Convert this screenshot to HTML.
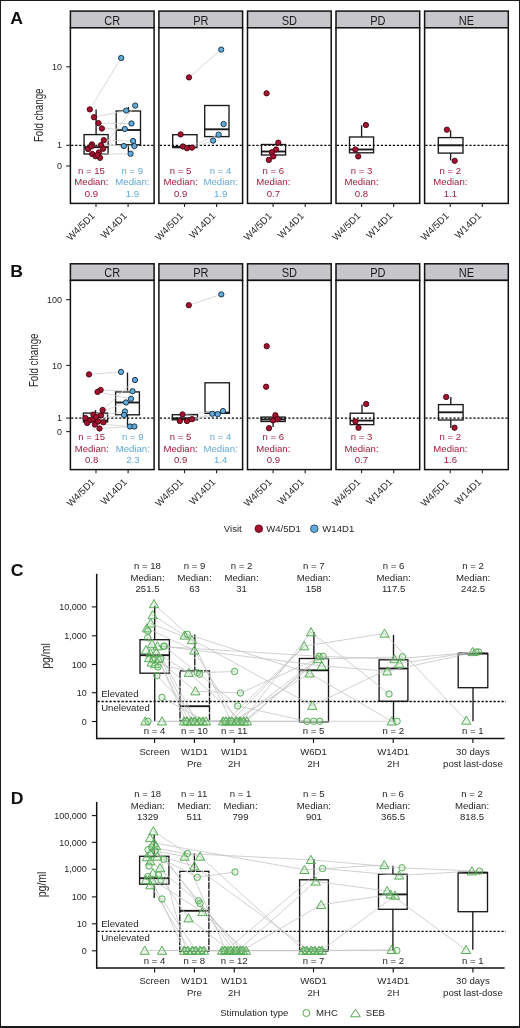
<!DOCTYPE html>
<html><head><meta charset="utf-8"><style>
html,body{margin:0;padding:0;background:#fff;}
svg{display:block;font-family:"Liberation Sans", sans-serif;will-change:transform;}
</style></head><body>
<svg width="520" height="1028" viewBox="0 0 520 1028">
<rect x="0" y="0" width="520" height="1028" fill="#fff"/>
<text transform="translate(10.2,23.8) scale(1.07,1)" x="0" y="0" font-size="16.5" font-weight="bold" fill="#111">A</text>
<rect x="70.4" y="11.1" width="83.7" height="16.7" fill="#c7c6ca" stroke="#111" stroke-width="1.5"/>
<rect x="70.4" y="27.8" width="83.7" height="175.6" fill="#fff" stroke="#111" stroke-width="1.5"/>
<text transform="translate(112.3,24.7) scale(0.875,1)" x="0" y="0" font-size="12.6" text-anchor="middle" fill="#1a1a1a">CR</text>
<line x1="96.0" y1="203.4" x2="96.0" y2="207.0" stroke="#222" stroke-width="1.1"/>
<line x1="128.1" y1="203.4" x2="128.1" y2="207.0" stroke="#222" stroke-width="1.1"/>
<line x1="71.2" y1="145.3" x2="153.3" y2="145.3" stroke="#000" stroke-width="1.3" stroke-dasharray="2.2,1.8"/>
<rect x="158.9" y="11.1" width="83.7" height="16.7" fill="#c7c6ca" stroke="#111" stroke-width="1.5"/>
<rect x="158.9" y="27.8" width="83.7" height="175.6" fill="#fff" stroke="#111" stroke-width="1.5"/>
<text transform="translate(200.8,24.7) scale(0.875,1)" x="0" y="0" font-size="12.6" text-anchor="middle" fill="#1a1a1a">PR</text>
<line x1="184.5" y1="203.4" x2="184.5" y2="207.0" stroke="#222" stroke-width="1.1"/>
<line x1="216.6" y1="203.4" x2="216.6" y2="207.0" stroke="#222" stroke-width="1.1"/>
<line x1="159.8" y1="145.3" x2="241.8" y2="145.3" stroke="#000" stroke-width="1.3" stroke-dasharray="2.2,1.8"/>
<rect x="247.5" y="11.1" width="83.7" height="16.7" fill="#c7c6ca" stroke="#111" stroke-width="1.5"/>
<rect x="247.5" y="27.8" width="83.7" height="175.6" fill="#fff" stroke="#111" stroke-width="1.5"/>
<text transform="translate(289.4,24.7) scale(0.875,1)" x="0" y="0" font-size="12.6" text-anchor="middle" fill="#1a1a1a">SD</text>
<line x1="273.1" y1="203.4" x2="273.1" y2="207.0" stroke="#222" stroke-width="1.1"/>
<line x1="305.2" y1="203.4" x2="305.2" y2="207.0" stroke="#222" stroke-width="1.1"/>
<line x1="248.3" y1="145.3" x2="330.4" y2="145.3" stroke="#000" stroke-width="1.3" stroke-dasharray="2.2,1.8"/>
<rect x="336.0" y="11.1" width="83.7" height="16.7" fill="#c7c6ca" stroke="#111" stroke-width="1.5"/>
<rect x="336.0" y="27.8" width="83.7" height="175.6" fill="#fff" stroke="#111" stroke-width="1.5"/>
<text transform="translate(377.9,24.7) scale(0.875,1)" x="0" y="0" font-size="12.6" text-anchor="middle" fill="#1a1a1a">PD</text>
<line x1="361.6" y1="203.4" x2="361.6" y2="207.0" stroke="#222" stroke-width="1.1"/>
<line x1="393.7" y1="203.4" x2="393.7" y2="207.0" stroke="#222" stroke-width="1.1"/>
<line x1="336.8" y1="145.3" x2="418.9" y2="145.3" stroke="#000" stroke-width="1.3" stroke-dasharray="2.2,1.8"/>
<rect x="424.6" y="11.1" width="83.7" height="16.7" fill="#c7c6ca" stroke="#111" stroke-width="1.5"/>
<rect x="424.6" y="27.8" width="83.7" height="175.6" fill="#fff" stroke="#111" stroke-width="1.5"/>
<text transform="translate(466.5,24.7) scale(0.875,1)" x="0" y="0" font-size="12.6" text-anchor="middle" fill="#1a1a1a">NE</text>
<line x1="450.2" y1="203.4" x2="450.2" y2="207.0" stroke="#222" stroke-width="1.1"/>
<line x1="482.3" y1="203.4" x2="482.3" y2="207.0" stroke="#222" stroke-width="1.1"/>
<line x1="425.4" y1="145.3" x2="507.5" y2="145.3" stroke="#000" stroke-width="1.3" stroke-dasharray="2.2,1.8"/>
<line x1="66.2" y1="66.8" x2="70.4" y2="66.8" stroke="#222" stroke-width="1.1"/>
<text x="62.0" y="69.8" font-size="9" text-anchor="end" fill="#262626" >10</text>
<line x1="66.2" y1="145.3" x2="70.4" y2="145.3" stroke="#222" stroke-width="1.1"/>
<text x="62.0" y="148.4" font-size="9" text-anchor="end" fill="#262626" >1</text>
<line x1="66.2" y1="166.0" x2="70.4" y2="166.0" stroke="#222" stroke-width="1.1"/>
<text x="62.0" y="169.1" font-size="9" text-anchor="end" fill="#262626" >0</text>
<text transform="translate(38.8,115.3) rotate(-90) scale(0.78,1)" x="0" y="4.3" font-size="12.5" text-anchor="middle" fill="#2a2a2a">Fold change</text>
<text transform="translate(95.4,216.4) rotate(-45)" x="0" y="0" font-size="9.7" text-anchor="end" fill="#262626">W4/5D1</text>
<text transform="translate(127.5,216.4) rotate(-45)" x="0" y="0" font-size="9.7" text-anchor="end" fill="#262626">W14D1</text>
<text transform="translate(183.9,216.4) rotate(-45)" x="0" y="0" font-size="9.7" text-anchor="end" fill="#262626">W4/5D1</text>
<text transform="translate(216.0,216.4) rotate(-45)" x="0" y="0" font-size="9.7" text-anchor="end" fill="#262626">W14D1</text>
<text transform="translate(272.5,216.4) rotate(-45)" x="0" y="0" font-size="9.7" text-anchor="end" fill="#262626">W4/5D1</text>
<text transform="translate(304.6,216.4) rotate(-45)" x="0" y="0" font-size="9.7" text-anchor="end" fill="#262626">W14D1</text>
<text transform="translate(361.0,216.4) rotate(-45)" x="0" y="0" font-size="9.7" text-anchor="end" fill="#262626">W4/5D1</text>
<text transform="translate(393.1,216.4) rotate(-45)" x="0" y="0" font-size="9.7" text-anchor="end" fill="#262626">W14D1</text>
<text transform="translate(449.6,216.4) rotate(-45)" x="0" y="0" font-size="9.7" text-anchor="end" fill="#262626">W4/5D1</text>
<text transform="translate(481.7,216.4) rotate(-45)" x="0" y="0" font-size="9.7" text-anchor="end" fill="#262626">W14D1</text>
<line x1="96.1" y1="109.4" x2="96.1" y2="134.6" stroke="#1a1a1a" stroke-width="1.35"/>
<line x1="96.1" y1="154.0" x2="96.1" y2="157.5" stroke="#1a1a1a" stroke-width="1.35"/>
<rect x="84.1" y="134.6" width="24.0" height="19.4" fill="none" stroke="#1a1a1a" stroke-width="1.35"/>
<line x1="84.1" y1="147.2" x2="108.1" y2="147.2" stroke="#1a1a1a" stroke-width="1.89"/>
<line x1="128.4" y1="106.9" x2="128.4" y2="111.0" stroke="#1a1a1a" stroke-width="1.35"/>
<line x1="128.4" y1="144.8" x2="128.4" y2="152.5" stroke="#1a1a1a" stroke-width="1.35"/>
<rect x="116.2" y="111.0" width="24.3" height="33.8" fill="none" stroke="#1a1a1a" stroke-width="1.35"/>
<line x1="116.2" y1="130.0" x2="140.6" y2="130.0" stroke="#1a1a1a" stroke-width="1.89"/>
<polyline points="89.8,109.4 121.2,58.0" fill="none" stroke="#cfcfcf" stroke-width="0.8"/>
<polyline points="94.0,117.2 126.2,110.6" fill="none" stroke="#cfcfcf" stroke-width="0.8"/>
<polyline points="98.5,123.1 131.5,123.5" fill="none" stroke="#cfcfcf" stroke-width="0.8"/>
<polyline points="101.9,128.5 124.8,129.0" fill="none" stroke="#cfcfcf" stroke-width="0.8"/>
<polyline points="103.8,140.2 133.1,141.0" fill="none" stroke="#cfcfcf" stroke-width="0.8"/>
<polyline points="91.9,144.4 123.8,146.0" fill="none" stroke="#cfcfcf" stroke-width="0.8"/>
<polyline points="101.0,145.2 134.4,146.0" fill="none" stroke="#cfcfcf" stroke-width="0.8"/>
<polyline points="92.2,154.0 130.6,153.8" fill="none" stroke="#cfcfcf" stroke-width="0.8"/>
<polyline points="98.8,152.5 135.2,105.6" fill="none" stroke="#cfcfcf" stroke-width="0.8"/>
<circle cx="89.8" cy="109.4" r="2.65" fill="#a5122f" stroke="#4a0612" stroke-width="0.95"/>
<circle cx="94.0" cy="117.2" r="2.65" fill="#a5122f" stroke="#4a0612" stroke-width="0.95"/>
<circle cx="98.5" cy="123.1" r="2.65" fill="#a5122f" stroke="#4a0612" stroke-width="0.95"/>
<circle cx="101.9" cy="128.5" r="2.65" fill="#a5122f" stroke="#4a0612" stroke-width="0.95"/>
<circle cx="103.8" cy="140.2" r="2.65" fill="#a5122f" stroke="#4a0612" stroke-width="0.95"/>
<circle cx="91.9" cy="144.4" r="2.65" fill="#a5122f" stroke="#4a0612" stroke-width="0.95"/>
<circle cx="101.0" cy="145.2" r="2.65" fill="#a5122f" stroke="#4a0612" stroke-width="0.95"/>
<circle cx="88.1" cy="149.0" r="2.65" fill="#a5122f" stroke="#4a0612" stroke-width="0.95"/>
<circle cx="103.1" cy="148.8" r="2.65" fill="#a5122f" stroke="#4a0612" stroke-width="0.95"/>
<circle cx="92.2" cy="154.0" r="2.65" fill="#a5122f" stroke="#4a0612" stroke-width="0.95"/>
<circle cx="98.8" cy="152.5" r="2.65" fill="#a5122f" stroke="#4a0612" stroke-width="0.95"/>
<circle cx="95.6" cy="156.2" r="2.65" fill="#a5122f" stroke="#4a0612" stroke-width="0.95"/>
<circle cx="100.0" cy="157.8" r="2.65" fill="#a5122f" stroke="#4a0612" stroke-width="0.95"/>
<circle cx="91.2" cy="146.5" r="2.65" fill="#a5122f" stroke="#4a0612" stroke-width="0.95"/>
<circle cx="97.5" cy="155.0" r="2.65" fill="#a5122f" stroke="#4a0612" stroke-width="0.95"/>
<circle cx="121.2" cy="58.0" r="2.65" fill="#62aad8" stroke="#173448" stroke-width="0.95"/>
<circle cx="126.2" cy="110.6" r="2.65" fill="#62aad8" stroke="#173448" stroke-width="0.95"/>
<circle cx="131.5" cy="123.5" r="2.65" fill="#62aad8" stroke="#173448" stroke-width="0.95"/>
<circle cx="124.8" cy="129.0" r="2.65" fill="#62aad8" stroke="#173448" stroke-width="0.95"/>
<circle cx="133.1" cy="141.0" r="2.65" fill="#62aad8" stroke="#173448" stroke-width="0.95"/>
<circle cx="123.8" cy="146.0" r="2.65" fill="#62aad8" stroke="#173448" stroke-width="0.95"/>
<circle cx="134.4" cy="146.0" r="2.65" fill="#62aad8" stroke="#173448" stroke-width="0.95"/>
<circle cx="130.6" cy="153.8" r="2.65" fill="#62aad8" stroke="#173448" stroke-width="0.95"/>
<circle cx="135.2" cy="105.6" r="2.65" fill="#62aad8" stroke="#173448" stroke-width="0.95"/>
<text transform="translate(91.4,173.9) scale(0.98,1)" font-size="9.8" text-anchor="middle" fill="#a0203e" >n = 15</text>
<text transform="translate(91.4,185.3) scale(0.98,1)" font-size="9.8" text-anchor="middle" fill="#a0203e" >Median:</text>
<text transform="translate(91.4,196.7) scale(0.98,1)" font-size="9.8" text-anchor="middle" fill="#a0203e" >0.9</text>
<text transform="translate(132.4,173.9) scale(0.98,1)" font-size="9.8" text-anchor="middle" fill="#5fa9d8" >n = 9</text>
<text transform="translate(132.4,185.3) scale(0.98,1)" font-size="9.8" text-anchor="middle" fill="#5fa9d8" >Median:</text>
<text transform="translate(132.4,196.7) scale(0.98,1)" font-size="9.8" text-anchor="middle" fill="#5fa9d8" >1.9</text>
<rect x="172.7" y="134.7" width="24.3" height="12.9" fill="none" stroke="#1a1a1a" stroke-width="1.35"/>
<line x1="172.7" y1="146.8" x2="197.0" y2="146.8" stroke="#1a1a1a" stroke-width="1.89"/>
<rect x="204.7" y="105.5" width="24.3" height="31.1" fill="none" stroke="#1a1a1a" stroke-width="1.35"/>
<line x1="204.7" y1="129.3" x2="229.0" y2="129.3" stroke="#1a1a1a" stroke-width="1.89"/>
<polyline points="189.0,77.4 221.2,49.6" fill="none" stroke="#cfcfcf" stroke-width="0.8"/>
<polyline points="187.0,148.2 218.6,134.7" fill="none" stroke="#cfcfcf" stroke-width="0.8"/>
<polyline points="192.0,147.6 213.1,140.6" fill="none" stroke="#cfcfcf" stroke-width="0.8"/>
<circle cx="189.0" cy="77.4" r="2.65" fill="#a5122f" stroke="#4a0612" stroke-width="0.95"/>
<circle cx="180.6" cy="134.4" r="2.65" fill="#a5122f" stroke="#4a0612" stroke-width="0.95"/>
<circle cx="183.0" cy="146.5" r="2.65" fill="#a5122f" stroke="#4a0612" stroke-width="0.95"/>
<circle cx="187.0" cy="148.2" r="2.65" fill="#a5122f" stroke="#4a0612" stroke-width="0.95"/>
<circle cx="192.0" cy="147.6" r="2.65" fill="#a5122f" stroke="#4a0612" stroke-width="0.95"/>
<circle cx="221.2" cy="49.6" r="2.65" fill="#62aad8" stroke="#173448" stroke-width="0.95"/>
<circle cx="223.6" cy="124.1" r="2.65" fill="#62aad8" stroke="#173448" stroke-width="0.95"/>
<circle cx="218.6" cy="134.7" r="2.65" fill="#62aad8" stroke="#173448" stroke-width="0.95"/>
<circle cx="213.1" cy="140.6" r="2.65" fill="#62aad8" stroke="#173448" stroke-width="0.95"/>
<text transform="translate(180.6,173.9) scale(0.98,1)" font-size="9.8" text-anchor="middle" fill="#a0203e" >n = 5</text>
<text transform="translate(180.6,185.3) scale(0.98,1)" font-size="9.8" text-anchor="middle" fill="#a0203e" >Median:</text>
<text transform="translate(180.6,196.7) scale(0.98,1)" font-size="9.8" text-anchor="middle" fill="#a0203e" >0.9</text>
<text transform="translate(220.6,173.9) scale(0.98,1)" font-size="9.8" text-anchor="middle" fill="#5fa9d8" >n = 4</text>
<text transform="translate(220.6,185.3) scale(0.98,1)" font-size="9.8" text-anchor="middle" fill="#5fa9d8" >Median:</text>
<text transform="translate(220.6,196.7) scale(0.98,1)" font-size="9.8" text-anchor="middle" fill="#5fa9d8" >1.9</text>
<rect x="261.5" y="144.5" width="24.1" height="10.5" fill="none" stroke="#1a1a1a" stroke-width="1.35"/>
<line x1="261.5" y1="151.5" x2="285.6" y2="151.5" stroke="#1a1a1a" stroke-width="1.89"/>
<circle cx="266.6" cy="93.3" r="2.65" fill="#a5122f" stroke="#4a0612" stroke-width="0.95"/>
<circle cx="278.3" cy="142.7" r="2.65" fill="#a5122f" stroke="#4a0612" stroke-width="0.95"/>
<circle cx="276.1" cy="149.5" r="2.65" fill="#a5122f" stroke="#4a0612" stroke-width="0.95"/>
<circle cx="271.9" cy="152.2" r="2.65" fill="#a5122f" stroke="#4a0612" stroke-width="0.95"/>
<circle cx="273.3" cy="156.4" r="2.65" fill="#a5122f" stroke="#4a0612" stroke-width="0.95"/>
<circle cx="268.8" cy="159.9" r="2.65" fill="#a5122f" stroke="#4a0612" stroke-width="0.95"/>
<text transform="translate(273.3,173.9) scale(0.98,1)" font-size="9.8" text-anchor="middle" fill="#a0203e" >n = 6</text>
<text transform="translate(273.3,185.3) scale(0.98,1)" font-size="9.8" text-anchor="middle" fill="#a0203e" >Median:</text>
<text transform="translate(273.3,196.7) scale(0.98,1)" font-size="9.8" text-anchor="middle" fill="#a0203e" >0.7</text>
<line x1="361.6" y1="125.3" x2="361.6" y2="137.0" stroke="#1a1a1a" stroke-width="1.35"/>
<rect x="349.5" y="137.0" width="24.1" height="15.8" fill="none" stroke="#1a1a1a" stroke-width="1.35"/>
<line x1="349.5" y1="149.5" x2="373.6" y2="149.5" stroke="#1a1a1a" stroke-width="1.89"/>
<circle cx="365.9" cy="125.0" r="2.65" fill="#a5122f" stroke="#4a0612" stroke-width="0.95"/>
<circle cx="355.3" cy="149.5" r="2.65" fill="#a5122f" stroke="#4a0612" stroke-width="0.95"/>
<circle cx="358.2" cy="156.4" r="2.65" fill="#a5122f" stroke="#4a0612" stroke-width="0.95"/>
<text transform="translate(361.5,173.9) scale(0.98,1)" font-size="9.8" text-anchor="middle" fill="#a0203e" >n = 3</text>
<text transform="translate(361.5,185.3) scale(0.98,1)" font-size="9.8" text-anchor="middle" fill="#a0203e" >Median:</text>
<text transform="translate(361.5,196.7) scale(0.98,1)" font-size="9.8" text-anchor="middle" fill="#a0203e" >0.8</text>
<line x1="450.6" y1="130.3" x2="450.6" y2="137.6" stroke="#1a1a1a" stroke-width="1.35"/>
<line x1="450.6" y1="153.1" x2="450.6" y2="160.4" stroke="#1a1a1a" stroke-width="1.35"/>
<rect x="438.3" y="137.6" width="24.7" height="15.5" fill="none" stroke="#1a1a1a" stroke-width="1.35"/>
<line x1="438.3" y1="145.3" x2="463.0" y2="145.3" stroke="#1a1a1a" stroke-width="1.89"/>
<circle cx="446.9" cy="129.7" r="2.65" fill="#a5122f" stroke="#4a0612" stroke-width="0.95"/>
<circle cx="454.7" cy="160.8" r="2.65" fill="#a5122f" stroke="#4a0612" stroke-width="0.95"/>
<text transform="translate(450.4,173.9) scale(0.98,1)" font-size="9.8" text-anchor="middle" fill="#a0203e" >n = 2</text>
<text transform="translate(450.4,185.3) scale(0.98,1)" font-size="9.8" text-anchor="middle" fill="#a0203e" >Median:</text>
<text transform="translate(450.4,196.7) scale(0.98,1)" font-size="9.8" text-anchor="middle" fill="#a0203e" >1.1</text>
<text transform="translate(10.2,276.5) scale(1.07,1)" x="0" y="0" font-size="16.5" font-weight="bold" fill="#111">B</text>
<rect x="70.4" y="263.8" width="83.7" height="16.6" fill="#c7c6ca" stroke="#111" stroke-width="1.5"/>
<rect x="70.4" y="280.4" width="83.7" height="189.2" fill="#fff" stroke="#111" stroke-width="1.5"/>
<text transform="translate(112.3,277.4) scale(0.875,1)" x="0" y="0" font-size="12.6" text-anchor="middle" fill="#1a1a1a">CR</text>
<line x1="96.0" y1="469.6" x2="96.0" y2="473.2" stroke="#222" stroke-width="1.1"/>
<line x1="128.1" y1="469.6" x2="128.1" y2="473.2" stroke="#222" stroke-width="1.1"/>
<line x1="71.2" y1="418.1" x2="153.3" y2="418.1" stroke="#000" stroke-width="1.3" stroke-dasharray="2.2,1.8"/>
<rect x="158.9" y="263.8" width="83.7" height="16.6" fill="#c7c6ca" stroke="#111" stroke-width="1.5"/>
<rect x="158.9" y="280.4" width="83.7" height="189.2" fill="#fff" stroke="#111" stroke-width="1.5"/>
<text transform="translate(200.8,277.4) scale(0.875,1)" x="0" y="0" font-size="12.6" text-anchor="middle" fill="#1a1a1a">PR</text>
<line x1="184.5" y1="469.6" x2="184.5" y2="473.2" stroke="#222" stroke-width="1.1"/>
<line x1="216.6" y1="469.6" x2="216.6" y2="473.2" stroke="#222" stroke-width="1.1"/>
<line x1="159.8" y1="418.1" x2="241.8" y2="418.1" stroke="#000" stroke-width="1.3" stroke-dasharray="2.2,1.8"/>
<rect x="247.5" y="263.8" width="83.7" height="16.6" fill="#c7c6ca" stroke="#111" stroke-width="1.5"/>
<rect x="247.5" y="280.4" width="83.7" height="189.2" fill="#fff" stroke="#111" stroke-width="1.5"/>
<text transform="translate(289.4,277.4) scale(0.875,1)" x="0" y="0" font-size="12.6" text-anchor="middle" fill="#1a1a1a">SD</text>
<line x1="273.1" y1="469.6" x2="273.1" y2="473.2" stroke="#222" stroke-width="1.1"/>
<line x1="305.2" y1="469.6" x2="305.2" y2="473.2" stroke="#222" stroke-width="1.1"/>
<line x1="248.3" y1="418.1" x2="330.4" y2="418.1" stroke="#000" stroke-width="1.3" stroke-dasharray="2.2,1.8"/>
<rect x="336.0" y="263.8" width="83.7" height="16.6" fill="#c7c6ca" stroke="#111" stroke-width="1.5"/>
<rect x="336.0" y="280.4" width="83.7" height="189.2" fill="#fff" stroke="#111" stroke-width="1.5"/>
<text transform="translate(377.9,277.4) scale(0.875,1)" x="0" y="0" font-size="12.6" text-anchor="middle" fill="#1a1a1a">PD</text>
<line x1="361.6" y1="469.6" x2="361.6" y2="473.2" stroke="#222" stroke-width="1.1"/>
<line x1="393.7" y1="469.6" x2="393.7" y2="473.2" stroke="#222" stroke-width="1.1"/>
<line x1="336.8" y1="418.1" x2="418.9" y2="418.1" stroke="#000" stroke-width="1.3" stroke-dasharray="2.2,1.8"/>
<rect x="424.6" y="263.8" width="83.7" height="16.6" fill="#c7c6ca" stroke="#111" stroke-width="1.5"/>
<rect x="424.6" y="280.4" width="83.7" height="189.2" fill="#fff" stroke="#111" stroke-width="1.5"/>
<text transform="translate(466.5,277.4) scale(0.875,1)" x="0" y="0" font-size="12.6" text-anchor="middle" fill="#1a1a1a">NE</text>
<line x1="450.2" y1="469.6" x2="450.2" y2="473.2" stroke="#222" stroke-width="1.1"/>
<line x1="482.3" y1="469.6" x2="482.3" y2="473.2" stroke="#222" stroke-width="1.1"/>
<line x1="425.4" y1="418.1" x2="507.5" y2="418.1" stroke="#000" stroke-width="1.3" stroke-dasharray="2.2,1.8"/>
<line x1="66.2" y1="299.7" x2="70.4" y2="299.7" stroke="#222" stroke-width="1.1"/>
<text x="62.0" y="302.8" font-size="9" text-anchor="end" fill="#262626" >100</text>
<line x1="66.2" y1="365.4" x2="70.4" y2="365.4" stroke="#222" stroke-width="1.1"/>
<text x="62.0" y="368.5" font-size="9" text-anchor="end" fill="#262626" >10</text>
<line x1="66.2" y1="418.1" x2="70.4" y2="418.1" stroke="#222" stroke-width="1.1"/>
<text x="62.0" y="421.2" font-size="9" text-anchor="end" fill="#262626" >1</text>
<line x1="66.2" y1="431.6" x2="70.4" y2="431.6" stroke="#222" stroke-width="1.1"/>
<text x="62.0" y="434.7" font-size="9" text-anchor="end" fill="#262626" >0</text>
<text transform="translate(34.0,360.3) rotate(-90) scale(0.78,1)" x="0" y="4.3" font-size="12.5" text-anchor="middle" fill="#2a2a2a">Fold change</text>
<text transform="translate(95.4,482.6) rotate(-45)" x="0" y="0" font-size="9.7" text-anchor="end" fill="#262626">W4/5D1</text>
<text transform="translate(127.5,482.6) rotate(-45)" x="0" y="0" font-size="9.7" text-anchor="end" fill="#262626">W14D1</text>
<text transform="translate(183.9,482.6) rotate(-45)" x="0" y="0" font-size="9.7" text-anchor="end" fill="#262626">W4/5D1</text>
<text transform="translate(216.0,482.6) rotate(-45)" x="0" y="0" font-size="9.7" text-anchor="end" fill="#262626">W14D1</text>
<text transform="translate(272.5,482.6) rotate(-45)" x="0" y="0" font-size="9.7" text-anchor="end" fill="#262626">W4/5D1</text>
<text transform="translate(304.6,482.6) rotate(-45)" x="0" y="0" font-size="9.7" text-anchor="end" fill="#262626">W14D1</text>
<text transform="translate(361.0,482.6) rotate(-45)" x="0" y="0" font-size="9.7" text-anchor="end" fill="#262626">W4/5D1</text>
<text transform="translate(393.1,482.6) rotate(-45)" x="0" y="0" font-size="9.7" text-anchor="end" fill="#262626">W14D1</text>
<text transform="translate(449.6,482.6) rotate(-45)" x="0" y="0" font-size="9.7" text-anchor="end" fill="#262626">W4/5D1</text>
<text transform="translate(481.7,482.6) rotate(-45)" x="0" y="0" font-size="9.7" text-anchor="end" fill="#262626">W14D1</text>
<line x1="95.5" y1="410.0" x2="95.5" y2="413.1" stroke="#1a1a1a" stroke-width="1.35"/>
<rect x="83.4" y="413.1" width="24.2" height="8.8" fill="none" stroke="#1a1a1a" stroke-width="1.35"/>
<line x1="83.4" y1="420.6" x2="107.6" y2="420.6" stroke="#1a1a1a" stroke-width="1.89"/>
<line x1="127.5" y1="372.5" x2="127.5" y2="391.9" stroke="#1a1a1a" stroke-width="1.35"/>
<line x1="127.5" y1="414.8" x2="127.5" y2="426.2" stroke="#1a1a1a" stroke-width="1.35"/>
<rect x="115.6" y="391.9" width="23.8" height="22.9" fill="none" stroke="#1a1a1a" stroke-width="1.35"/>
<line x1="115.6" y1="402.5" x2="139.4" y2="402.5" stroke="#1a1a1a" stroke-width="1.89"/>
<polyline points="89.0,374.4 121.0,371.9" fill="none" stroke="#cfcfcf" stroke-width="0.8"/>
<polyline points="100.6,390.0 132.5,391.2" fill="none" stroke="#cfcfcf" stroke-width="0.8"/>
<polyline points="97.5,391.9 131.0,398.8" fill="none" stroke="#cfcfcf" stroke-width="0.8"/>
<polyline points="102.6,410.0 135.0,380.0" fill="none" stroke="#cfcfcf" stroke-width="0.8"/>
<polyline points="93.4,414.6 126.0,402.5" fill="none" stroke="#cfcfcf" stroke-width="0.8"/>
<polyline points="101.0,415.4 125.0,411.5" fill="none" stroke="#cfcfcf" stroke-width="0.8"/>
<polyline points="87.2,423.0 130.0,426.5" fill="none" stroke="#cfcfcf" stroke-width="0.8"/>
<polyline points="99.5,428.5 134.4,426.5" fill="none" stroke="#cfcfcf" stroke-width="0.8"/>
<polyline points="93.4,419.2 124.0,415.0" fill="none" stroke="#cfcfcf" stroke-width="0.8"/>
<circle cx="89.0" cy="374.4" r="2.65" fill="#a5122f" stroke="#4a0612" stroke-width="0.95"/>
<circle cx="100.6" cy="390.0" r="2.65" fill="#a5122f" stroke="#4a0612" stroke-width="0.95"/>
<circle cx="97.5" cy="391.9" r="2.65" fill="#a5122f" stroke="#4a0612" stroke-width="0.95"/>
<circle cx="102.6" cy="410.0" r="2.65" fill="#a5122f" stroke="#4a0612" stroke-width="0.95"/>
<circle cx="93.4" cy="414.6" r="2.65" fill="#a5122f" stroke="#4a0612" stroke-width="0.95"/>
<circle cx="101.0" cy="415.4" r="2.65" fill="#a5122f" stroke="#4a0612" stroke-width="0.95"/>
<circle cx="87.2" cy="423.0" r="2.65" fill="#a5122f" stroke="#4a0612" stroke-width="0.95"/>
<circle cx="94.9" cy="424.6" r="2.65" fill="#a5122f" stroke="#4a0612" stroke-width="0.95"/>
<circle cx="99.5" cy="428.5" r="2.65" fill="#a5122f" stroke="#4a0612" stroke-width="0.95"/>
<circle cx="90.3" cy="420.0" r="2.65" fill="#a5122f" stroke="#4a0612" stroke-width="0.95"/>
<circle cx="98.0" cy="421.5" r="2.65" fill="#a5122f" stroke="#4a0612" stroke-width="0.95"/>
<circle cx="103.4" cy="422.3" r="2.65" fill="#a5122f" stroke="#4a0612" stroke-width="0.95"/>
<circle cx="93.4" cy="419.2" r="2.65" fill="#a5122f" stroke="#4a0612" stroke-width="0.95"/>
<circle cx="85.5" cy="418.0" r="2.65" fill="#a5122f" stroke="#4a0612" stroke-width="0.95"/>
<circle cx="96.0" cy="417.0" r="2.65" fill="#a5122f" stroke="#4a0612" stroke-width="0.95"/>
<circle cx="121.0" cy="371.9" r="2.65" fill="#62aad8" stroke="#173448" stroke-width="0.95"/>
<circle cx="135.0" cy="380.0" r="2.65" fill="#62aad8" stroke="#173448" stroke-width="0.95"/>
<circle cx="132.5" cy="391.2" r="2.65" fill="#62aad8" stroke="#173448" stroke-width="0.95"/>
<circle cx="131.0" cy="398.8" r="2.65" fill="#62aad8" stroke="#173448" stroke-width="0.95"/>
<circle cx="126.0" cy="402.5" r="2.65" fill="#62aad8" stroke="#173448" stroke-width="0.95"/>
<circle cx="125.0" cy="411.5" r="2.65" fill="#62aad8" stroke="#173448" stroke-width="0.95"/>
<circle cx="124.0" cy="415.0" r="2.65" fill="#62aad8" stroke="#173448" stroke-width="0.95"/>
<circle cx="130.0" cy="426.5" r="2.65" fill="#62aad8" stroke="#173448" stroke-width="0.95"/>
<circle cx="134.4" cy="426.5" r="2.65" fill="#62aad8" stroke="#173448" stroke-width="0.95"/>
<text transform="translate(91.7,440.2) scale(0.98,1)" font-size="9.8" text-anchor="middle" fill="#a0203e" >n = 15</text>
<text transform="translate(91.7,451.5) scale(0.98,1)" font-size="9.8" text-anchor="middle" fill="#a0203e" >Median:</text>
<text transform="translate(91.7,462.8) scale(0.98,1)" font-size="9.8" text-anchor="middle" fill="#a0203e" >0.8</text>
<text transform="translate(132.8,440.2) scale(0.98,1)" font-size="9.8" text-anchor="middle" fill="#5fa9d8" >n = 9</text>
<text transform="translate(132.8,451.5) scale(0.98,1)" font-size="9.8" text-anchor="middle" fill="#5fa9d8" >Median:</text>
<text transform="translate(132.8,462.8) scale(0.98,1)" font-size="9.8" text-anchor="middle" fill="#5fa9d8" >2.3</text>
<rect x="172.3" y="414.7" width="25.2" height="5.1" fill="none" stroke="#1a1a1a" stroke-width="1.35"/>
<line x1="172.3" y1="418.3" x2="197.5" y2="418.3" stroke="#1a1a1a" stroke-width="1.89"/>
<rect x="205.0" y="382.8" width="24.4" height="30.5" fill="none" stroke="#1a1a1a" stroke-width="1.35"/>
<line x1="205.0" y1="412.6" x2="229.4" y2="412.6" stroke="#1a1a1a" stroke-width="1.89"/>
<polyline points="188.8,305.2 221.3,294.4" fill="none" stroke="#cfcfcf" stroke-width="0.8"/>
<polyline points="182.5,414.4 223.0,411.1" fill="none" stroke="#cfcfcf" stroke-width="0.8"/>
<polyline points="192.0,419.2 212.3,413.8" fill="none" stroke="#cfcfcf" stroke-width="0.8"/>
<polyline points="187.0,421.0 217.7,414.2" fill="none" stroke="#cfcfcf" stroke-width="0.8"/>
<circle cx="188.8" cy="305.2" r="2.65" fill="#a5122f" stroke="#4a0612" stroke-width="0.95"/>
<circle cx="182.5" cy="414.4" r="2.65" fill="#a5122f" stroke="#4a0612" stroke-width="0.95"/>
<circle cx="179.8" cy="421.0" r="2.65" fill="#a5122f" stroke="#4a0612" stroke-width="0.95"/>
<circle cx="187.0" cy="421.0" r="2.65" fill="#a5122f" stroke="#4a0612" stroke-width="0.95"/>
<circle cx="192.0" cy="419.2" r="2.65" fill="#a5122f" stroke="#4a0612" stroke-width="0.95"/>
<circle cx="221.3" cy="294.4" r="2.65" fill="#62aad8" stroke="#173448" stroke-width="0.95"/>
<circle cx="223.0" cy="411.1" r="2.65" fill="#62aad8" stroke="#173448" stroke-width="0.95"/>
<circle cx="212.3" cy="413.8" r="2.65" fill="#62aad8" stroke="#173448" stroke-width="0.95"/>
<circle cx="217.7" cy="414.2" r="2.65" fill="#62aad8" stroke="#173448" stroke-width="0.95"/>
<text transform="translate(180.6,440.2) scale(0.98,1)" font-size="9.8" text-anchor="middle" fill="#a0203e" >n = 5</text>
<text transform="translate(180.6,451.5) scale(0.98,1)" font-size="9.8" text-anchor="middle" fill="#a0203e" >Median:</text>
<text transform="translate(180.6,462.8) scale(0.98,1)" font-size="9.8" text-anchor="middle" fill="#a0203e" >0.9</text>
<text transform="translate(220.6,440.2) scale(0.98,1)" font-size="9.8" text-anchor="middle" fill="#5fa9d8" >n = 4</text>
<text transform="translate(220.6,451.5) scale(0.98,1)" font-size="9.8" text-anchor="middle" fill="#5fa9d8" >Median:</text>
<text transform="translate(220.6,462.8) scale(0.98,1)" font-size="9.8" text-anchor="middle" fill="#5fa9d8" >1.4</text>
<line x1="273.1" y1="421.5" x2="273.1" y2="427.0" stroke="#1a1a1a" stroke-width="1.35"/>
<rect x="261.0" y="417.1" width="24.2" height="4.4" fill="none" stroke="#1a1a1a" stroke-width="1.35"/>
<line x1="261.0" y1="419.5" x2="285.2" y2="419.5" stroke="#1a1a1a" stroke-width="1.89"/>
<circle cx="266.7" cy="346.2" r="2.65" fill="#a5122f" stroke="#4a0612" stroke-width="0.95"/>
<circle cx="266.1" cy="386.7" r="2.65" fill="#a5122f" stroke="#4a0612" stroke-width="0.95"/>
<circle cx="275.4" cy="415.2" r="2.65" fill="#a5122f" stroke="#4a0612" stroke-width="0.95"/>
<circle cx="273.1" cy="420.4" r="2.65" fill="#a5122f" stroke="#4a0612" stroke-width="0.95"/>
<circle cx="277.7" cy="419.2" r="2.65" fill="#a5122f" stroke="#4a0612" stroke-width="0.95"/>
<circle cx="269.0" cy="428.2" r="2.65" fill="#a5122f" stroke="#4a0612" stroke-width="0.95"/>
<text transform="translate(273.3,440.2) scale(0.98,1)" font-size="9.8" text-anchor="middle" fill="#a0203e" >n = 6</text>
<text transform="translate(273.3,451.5) scale(0.98,1)" font-size="9.8" text-anchor="middle" fill="#a0203e" >Median:</text>
<text transform="translate(273.3,462.8) scale(0.98,1)" font-size="9.8" text-anchor="middle" fill="#a0203e" >0.9</text>
<line x1="362.0" y1="404.6" x2="362.0" y2="413.2" stroke="#1a1a1a" stroke-width="1.35"/>
<rect x="350.2" y="413.2" width="23.6" height="11.4" fill="none" stroke="#1a1a1a" stroke-width="1.35"/>
<line x1="350.2" y1="420.6" x2="373.8" y2="420.6" stroke="#1a1a1a" stroke-width="1.89"/>
<circle cx="366.2" cy="404.0" r="2.65" fill="#a5122f" stroke="#4a0612" stroke-width="0.95"/>
<circle cx="355.4" cy="421.5" r="2.65" fill="#a5122f" stroke="#4a0612" stroke-width="0.95"/>
<circle cx="358.5" cy="427.7" r="2.65" fill="#a5122f" stroke="#4a0612" stroke-width="0.95"/>
<text transform="translate(361.5,440.2) scale(0.98,1)" font-size="9.8" text-anchor="middle" fill="#a0203e" >n = 3</text>
<text transform="translate(361.5,451.5) scale(0.98,1)" font-size="9.8" text-anchor="middle" fill="#a0203e" >Median:</text>
<text transform="translate(361.5,462.8) scale(0.98,1)" font-size="9.8" text-anchor="middle" fill="#a0203e" >0.7</text>
<line x1="450.8" y1="397.0" x2="450.8" y2="404.6" stroke="#1a1a1a" stroke-width="1.35"/>
<line x1="450.8" y1="420.0" x2="450.8" y2="427.7" stroke="#1a1a1a" stroke-width="1.35"/>
<rect x="438.5" y="404.6" width="24.6" height="15.4" fill="none" stroke="#1a1a1a" stroke-width="1.35"/>
<line x1="438.5" y1="412.3" x2="463.1" y2="412.3" stroke="#1a1a1a" stroke-width="1.89"/>
<circle cx="446.2" cy="397.0" r="2.65" fill="#a5122f" stroke="#4a0612" stroke-width="0.95"/>
<circle cx="454.5" cy="427.7" r="2.65" fill="#a5122f" stroke="#4a0612" stroke-width="0.95"/>
<text transform="translate(450.4,440.2) scale(0.98,1)" font-size="9.8" text-anchor="middle" fill="#a0203e" >n = 2</text>
<text transform="translate(450.4,451.5) scale(0.98,1)" font-size="9.8" text-anchor="middle" fill="#a0203e" >Median:</text>
<text transform="translate(450.4,462.8) scale(0.98,1)" font-size="9.8" text-anchor="middle" fill="#a0203e" >1.6</text>
<text transform="translate(223.8,531.6) scale(0.98,1)" font-size="9.8" text-anchor="start" fill="#262626" >Visit</text>
<circle cx="258.8" cy="528.7" r="3.8" fill="#a5122f" stroke="#4a0612" stroke-width="0.8"/>
<text transform="translate(266.2,531.9) scale(0.98,1)" font-size="9.8" text-anchor="start" fill="#262626" >W4/5D1</text>
<circle cx="314.3" cy="528.7" r="3.8" fill="#62aad8" stroke="#173448" stroke-width="0.8"/>
<text transform="translate(322.3,531.9) scale(0.98,1)" font-size="9.8" text-anchor="start" fill="#262626" >W14D1</text>
<text transform="translate(10.8,575.7) scale(1.07,1)" x="0" y="0" font-size="16.5" font-weight="bold" fill="#111">C</text>
<line x1="96.7" y1="573.8" x2="96.7" y2="739.2" stroke="#111" stroke-width="1.5"/>
<line x1="96.0" y1="738.5" x2="504.6" y2="738.5" stroke="#111" stroke-width="1.5"/>
<line x1="91.9" y1="606.9" x2="96.7" y2="606.9" stroke="#111" stroke-width="1.1"/>
<text x="86.7" y="610.1" font-size="9" text-anchor="end" fill="#262626" >10,000</text>
<line x1="91.9" y1="635.8" x2="96.7" y2="635.8" stroke="#111" stroke-width="1.1"/>
<text x="86.7" y="639.0" font-size="9" text-anchor="end" fill="#262626" >1,000</text>
<line x1="91.9" y1="664.5" x2="96.7" y2="664.5" stroke="#111" stroke-width="1.1"/>
<text x="86.7" y="667.7" font-size="9" text-anchor="end" fill="#262626" >100</text>
<line x1="91.9" y1="692.7" x2="96.7" y2="692.7" stroke="#111" stroke-width="1.1"/>
<text x="86.7" y="695.9" font-size="9" text-anchor="end" fill="#262626" >10</text>
<line x1="91.9" y1="721.5" x2="96.7" y2="721.5" stroke="#111" stroke-width="1.1"/>
<text x="86.7" y="724.7" font-size="9" text-anchor="end" fill="#262626" >0</text>
<text transform="translate(45.8,656.0) rotate(-90) scale(0.84,1)" x="0" y="4.3" font-size="12.5" text-anchor="middle" fill="#2a2a2a">pg/ml</text>
<line x1="154.6" y1="738.5" x2="154.6" y2="742.9" stroke="#111" stroke-width="1.1"/>
<text transform="translate(154.6,755.4) scale(0.98,1)" font-size="9.8" text-anchor="middle" fill="#262626" >Screen</text>
<line x1="194.4" y1="738.5" x2="194.4" y2="742.9" stroke="#111" stroke-width="1.1"/>
<text transform="translate(194.4,755.4) scale(0.98,1)" font-size="9.8" text-anchor="middle" fill="#262626" >W1D1</text>
<text transform="translate(194.4,766.9) scale(0.98,1)" font-size="9.8" text-anchor="middle" fill="#262626" >Pre</text>
<line x1="234.2" y1="738.5" x2="234.2" y2="742.9" stroke="#111" stroke-width="1.1"/>
<text transform="translate(234.2,755.4) scale(0.98,1)" font-size="9.8" text-anchor="middle" fill="#262626" >W1D1</text>
<text transform="translate(234.2,766.9) scale(0.98,1)" font-size="9.8" text-anchor="middle" fill="#262626" >2H</text>
<line x1="313.5" y1="738.5" x2="313.5" y2="742.9" stroke="#111" stroke-width="1.1"/>
<text transform="translate(313.5,755.4) scale(0.98,1)" font-size="9.8" text-anchor="middle" fill="#262626" >W6D1</text>
<text transform="translate(313.5,766.9) scale(0.98,1)" font-size="9.8" text-anchor="middle" fill="#262626" >2H</text>
<line x1="393.2" y1="738.5" x2="393.2" y2="742.9" stroke="#111" stroke-width="1.1"/>
<text transform="translate(393.2,755.4) scale(0.98,1)" font-size="9.8" text-anchor="middle" fill="#262626" >W14D1</text>
<text transform="translate(393.2,766.9) scale(0.98,1)" font-size="9.8" text-anchor="middle" fill="#262626" >2H</text>
<line x1="472.9" y1="738.5" x2="472.9" y2="742.9" stroke="#111" stroke-width="1.1"/>
<text transform="translate(472.9,755.4) scale(0.98,1)" font-size="9.8" text-anchor="middle" fill="#262626" >30 days</text>
<text transform="translate(472.9,766.9) scale(0.98,1)" font-size="9.8" text-anchor="middle" fill="#262626" >post last-dose</text>
<text transform="translate(147.5,569.2) scale(0.98,1)" font-size="9.8" text-anchor="middle" fill="#262626" >n = 18</text>
<text transform="translate(147.5,580.6) scale(0.98,1)" font-size="9.8" text-anchor="middle" fill="#262626" >Median:</text>
<text transform="translate(147.5,592.0) scale(0.98,1)" font-size="9.8" text-anchor="middle" fill="#262626" >251.5</text>
<text transform="translate(194.5,569.2) scale(0.98,1)" font-size="9.8" text-anchor="middle" fill="#262626" >n = 9</text>
<text transform="translate(194.5,580.6) scale(0.98,1)" font-size="9.8" text-anchor="middle" fill="#262626" >Median:</text>
<text transform="translate(194.5,592.0) scale(0.98,1)" font-size="9.8" text-anchor="middle" fill="#262626" >63</text>
<text transform="translate(241.5,569.2) scale(0.98,1)" font-size="9.8" text-anchor="middle" fill="#262626" >n = 2</text>
<text transform="translate(241.5,580.6) scale(0.98,1)" font-size="9.8" text-anchor="middle" fill="#262626" >Median:</text>
<text transform="translate(241.5,592.0) scale(0.98,1)" font-size="9.8" text-anchor="middle" fill="#262626" >31</text>
<text transform="translate(313.7,569.2) scale(0.98,1)" font-size="9.8" text-anchor="middle" fill="#262626" >n = 7</text>
<text transform="translate(313.7,580.6) scale(0.98,1)" font-size="9.8" text-anchor="middle" fill="#262626" >Median:</text>
<text transform="translate(313.7,592.0) scale(0.98,1)" font-size="9.8" text-anchor="middle" fill="#262626" >158</text>
<text transform="translate(393.6,569.2) scale(0.98,1)" font-size="9.8" text-anchor="middle" fill="#262626" >n = 6</text>
<text transform="translate(393.6,580.6) scale(0.98,1)" font-size="9.8" text-anchor="middle" fill="#262626" >Median:</text>
<text transform="translate(393.6,592.0) scale(0.98,1)" font-size="9.8" text-anchor="middle" fill="#262626" >117.5</text>
<text transform="translate(473.1,569.2) scale(0.98,1)" font-size="9.8" text-anchor="middle" fill="#262626" >n = 2</text>
<text transform="translate(473.1,580.6) scale(0.98,1)" font-size="9.8" text-anchor="middle" fill="#262626" >Median:</text>
<text transform="translate(473.1,592.0) scale(0.98,1)" font-size="9.8" text-anchor="middle" fill="#262626" >242.5</text>
<text transform="translate(154.6,734.2) scale(0.98,1)" font-size="9.8" text-anchor="middle" fill="#262626" >n = 4</text>
<text transform="translate(194.4,734.2) scale(0.98,1)" font-size="9.8" text-anchor="middle" fill="#262626" >n = 10</text>
<text transform="translate(234.2,734.2) scale(0.98,1)" font-size="9.8" text-anchor="middle" fill="#262626" >n = 11</text>
<text transform="translate(313.5,734.2) scale(0.98,1)" font-size="9.8" text-anchor="middle" fill="#262626" >n = 5</text>
<text transform="translate(393.2,734.2) scale(0.98,1)" font-size="9.8" text-anchor="middle" fill="#262626" >n = 2</text>
<text transform="translate(472.9,734.2) scale(0.98,1)" font-size="9.8" text-anchor="middle" fill="#262626" >n = 1</text>
<line x1="97.5" y1="701.5" x2="506" y2="701.5" stroke="#000" stroke-width="1.3" stroke-dasharray="2.2,1.8"/>
<text transform="translate(101.2,696.7) scale(0.98,1)" font-size="9.8" text-anchor="start" fill="#262626" >Elevated</text>
<text transform="translate(101.2,710.6) scale(0.98,1)" font-size="9.8" text-anchor="start" fill="#262626" >Unelevated</text>
<line x1="154.7" y1="606.0" x2="154.7" y2="639.7" stroke="#1a1a1a" stroke-width="1.35"/>
<line x1="154.7" y1="673.2" x2="154.7" y2="721.2" stroke="#1a1a1a" stroke-width="1.35"/>
<rect x="140.0" y="639.7" width="29.4" height="33.5" fill="none" stroke="#1a1a1a" stroke-width="1.35"/>
<line x1="140.0" y1="655.2" x2="169.4" y2="655.2" stroke="#1a1a1a" stroke-width="1.89"/>
<line x1="194.8" y1="634.6" x2="194.8" y2="670.9" stroke="#1a1a1a" stroke-width="1.35" stroke-dasharray="7,1"/>
<rect x="180.0" y="670.9" width="29.5" height="50.3" fill="none" stroke="#1a1a1a" stroke-width="1.35" stroke-dasharray="7,1"/>
<line x1="180.0" y1="706.2" x2="209.5" y2="706.2" stroke="#1a1a1a" stroke-width="1.89"/>
<rect x="220.0" y="721.3" width="29.0" height="0.0" fill="none" stroke="#1a1a1a" stroke-width="1.35"/>
<line x1="220.0" y1="721.3" x2="249.0" y2="721.3" stroke="#1a1a1a" stroke-width="1.89"/>
<line x1="313.9" y1="632.1" x2="313.9" y2="658.5" stroke="#1a1a1a" stroke-width="1.35"/>
<rect x="299.4" y="658.5" width="29.1" height="63.3" fill="none" stroke="#1a1a1a" stroke-width="1.35"/>
<line x1="299.4" y1="670.3" x2="328.5" y2="670.3" stroke="#1a1a1a" stroke-width="1.89"/>
<line x1="393.5" y1="634.8" x2="393.5" y2="659.8" stroke="#1a1a1a" stroke-width="1.35"/>
<line x1="393.5" y1="701.3" x2="393.5" y2="721.8" stroke="#1a1a1a" stroke-width="1.35"/>
<rect x="379.1" y="659.8" width="28.8" height="41.5" fill="none" stroke="#1a1a1a" stroke-width="1.35"/>
<line x1="379.1" y1="668.5" x2="407.9" y2="668.5" stroke="#1a1a1a" stroke-width="1.89"/>
<line x1="473.0" y1="687.7" x2="473.0" y2="721.2" stroke="#1a1a1a" stroke-width="1.35"/>
<rect x="458.2" y="653.5" width="29.6" height="34.2" fill="none" stroke="#1a1a1a" stroke-width="1.35"/>
<line x1="458.2" y1="653.5" x2="487.8" y2="653.5" stroke="#1a1a1a" stroke-width="1.89"/>
<polyline points="154.0,604.0 187.4,634.3 309.6,673.3 391.7,721.3" fill="none" stroke="#c2c2c2" stroke-width="0.75"/>
<polyline points="152.6,615.0 184.6,635.4 312.3,705.6 399.3,663.6 472.7,651.9" fill="none" stroke="#c2c2c2" stroke-width="0.75"/>
<polyline points="157.4,646.2 319.0,656.3 394.4,659.0 478.5,651.9" fill="none" stroke="#c2c2c2" stroke-width="0.75"/>
<polyline points="163.8,646.3 321.7,665.8 387.2,671.2 476.0,652.0" fill="none" stroke="#c2c2c2" stroke-width="0.75"/>
<polyline points="150.7,623.3 192.0,640.0 231.0,721.3 304.2,646.1 384.5,633.5 466.3,720.5" fill="none" stroke="#c2c2c2" stroke-width="0.75"/>
<polyline points="146.8,628.2 194.3,650.4 237.0,721.3 317.7,659.0 402.5,656.9" fill="none" stroke="#c2c2c2" stroke-width="0.75"/>
<polyline points="156.2,652.6 188.8,672.7 242.0,721.3 311.0,632.1 389.0,694.0" fill="none" stroke="#c2c2c2" stroke-width="0.75"/>
<polyline points="164.3,646.2 197.3,672.7 234.6,671.5" fill="none" stroke="#c2c2c2" stroke-width="0.75"/>
<polyline points="150.4,653.1 195.4,691.2 240.4,693.0 323.1,656.3" fill="none" stroke="#c2c2c2" stroke-width="0.75"/>
<polyline points="151.6,662.3 199.6,674.2 237.7,706.0 306.9,721.3 397.1,721.3" fill="none" stroke="#c2c2c2" stroke-width="0.75"/>
<polyline points="158.5,658.9 186.0,721.3 225.0,721.3 313.7,721.3" fill="none" stroke="#c2c2c2" stroke-width="0.75"/>
<polyline points="160.8,658.9 192.0,721.3 228.0,721.3 319.8,721.3" fill="none" stroke="#c2c2c2" stroke-width="0.75"/>
<polyline points="156.9,675.7 200.0,721.3 244.0,721.3" fill="none" stroke="#c2c2c2" stroke-width="0.75"/>
<polyline points="162.0,697.4 205.0,721.3 247.0,721.3" fill="none" stroke="#c2c2c2" stroke-width="0.75"/>
<polyline points="145.3,721.3 183.0,721.3 222.0,721.3" fill="none" stroke="#c2c2c2" stroke-width="0.75"/>
<polyline points="162.0,721.3 203.0,721.3 246.0,721.3" fill="none" stroke="#c2c2c2" stroke-width="0.75"/>
<polyline points="147.7,637.7 189.0,721.3 230.0,721.3" fill="none" stroke="#c2c2c2" stroke-width="0.75"/>
<polyline points="147.8,631.0 196.0,721.3 233.0,721.3" fill="none" stroke="#c2c2c2" stroke-width="0.75"/>
<polyline points="244.0,721.3 323.1,656.3" fill="none" stroke="#c2c2c2" stroke-width="0.75"/>
<polyline points="233.0,721.3 309.6,673.3" fill="none" stroke="#c2c2c2" stroke-width="0.75"/>
<polyline points="246.0,721.3 317.7,659.0" fill="none" stroke="#c2c2c2" stroke-width="0.75"/>
<polyline points="226.0,721.3 304.2,646.1" fill="none" stroke="#c2c2c2" stroke-width="0.75"/>
<path d="M154.0,599.5 L158.6,607.7 L149.4,607.7 Z" fill="rgba(150,220,150,0.22)" stroke="#52a852" stroke-width="0.95"/>
<path d="M152.6,610.5 L157.2,618.7 L148.0,618.7 Z" fill="rgba(150,220,150,0.22)" stroke="#52a852" stroke-width="0.95"/>
<path d="M150.7,618.8 L155.3,627.0 L146.1,627.0 Z" fill="rgba(150,220,150,0.22)" stroke="#52a852" stroke-width="0.95"/>
<path d="M146.8,623.7 L151.4,631.9 L142.2,631.9 Z" fill="rgba(150,220,150,0.22)" stroke="#52a852" stroke-width="0.95"/>
<path d="M157.4,641.7 L162.0,649.9 L152.8,649.9 Z" fill="rgba(150,220,150,0.22)" stroke="#52a852" stroke-width="0.95"/>
<path d="M150.4,648.6 L155.0,656.8 L145.8,656.8 Z" fill="rgba(150,220,150,0.22)" stroke="#52a852" stroke-width="0.95"/>
<path d="M156.2,648.1 L160.8,656.3 L151.6,656.3 Z" fill="rgba(150,220,150,0.22)" stroke="#52a852" stroke-width="0.95"/>
<path d="M151.6,657.8 L156.2,666.0 L147.0,666.0 Z" fill="rgba(150,220,150,0.22)" stroke="#52a852" stroke-width="0.95"/>
<path d="M158.5,654.4 L163.1,662.6 L153.9,662.6 Z" fill="rgba(150,220,150,0.22)" stroke="#52a852" stroke-width="0.95"/>
<path d="M145.3,716.8 L149.9,725.0 L140.7,725.0 Z" fill="rgba(150,220,150,0.22)" stroke="#52a852" stroke-width="0.95"/>
<path d="M162.0,716.8 L166.6,725.0 L157.4,725.0 Z" fill="rgba(150,220,150,0.22)" stroke="#52a852" stroke-width="0.95"/>
<path d="M184.6,630.9 L189.2,639.1 L180.0,639.1 Z" fill="rgba(150,220,150,0.22)" stroke="#52a852" stroke-width="0.95"/>
<path d="M192.0,635.5 L196.6,643.7 L187.4,643.7 Z" fill="rgba(150,220,150,0.22)" stroke="#52a852" stroke-width="0.95"/>
<path d="M194.3,645.9 L198.9,654.1 L189.7,654.1 Z" fill="rgba(150,220,150,0.22)" stroke="#52a852" stroke-width="0.95"/>
<path d="M188.8,668.2 L193.4,676.4 L184.2,676.4 Z" fill="rgba(150,220,150,0.22)" stroke="#52a852" stroke-width="0.95"/>
<path d="M195.4,686.7 L200.0,694.9 L190.8,694.9 Z" fill="rgba(150,220,150,0.22)" stroke="#52a852" stroke-width="0.95"/>
<path d="M311.0,627.6 L315.6,635.8 L306.4,635.8 Z" fill="rgba(150,220,150,0.22)" stroke="#52a852" stroke-width="0.95"/>
<path d="M304.2,641.6 L308.8,649.8 L299.6,649.8 Z" fill="rgba(150,220,150,0.22)" stroke="#52a852" stroke-width="0.95"/>
<path d="M317.7,654.5 L322.3,662.7 L313.1,662.7 Z" fill="rgba(150,220,150,0.22)" stroke="#52a852" stroke-width="0.95"/>
<path d="M321.7,661.3 L326.3,669.5 L317.1,669.5 Z" fill="rgba(150,220,150,0.22)" stroke="#52a852" stroke-width="0.95"/>
<path d="M309.6,668.8 L314.2,677.0 L305.0,677.0 Z" fill="rgba(150,220,150,0.22)" stroke="#52a852" stroke-width="0.95"/>
<path d="M312.3,701.1 L316.9,709.3 L307.7,709.3 Z" fill="rgba(150,220,150,0.22)" stroke="#52a852" stroke-width="0.95"/>
<path d="M384.5,629.0 L389.1,637.2 L379.9,637.2 Z" fill="rgba(150,220,150,0.22)" stroke="#52a852" stroke-width="0.95"/>
<path d="M394.4,654.5 L399.0,662.7 L389.8,662.7 Z" fill="rgba(150,220,150,0.22)" stroke="#52a852" stroke-width="0.95"/>
<path d="M399.3,659.1 L403.9,667.3 L394.7,667.3 Z" fill="rgba(150,220,150,0.22)" stroke="#52a852" stroke-width="0.95"/>
<path d="M387.2,666.7 L391.8,674.9 L382.6,674.9 Z" fill="rgba(150,220,150,0.22)" stroke="#52a852" stroke-width="0.95"/>
<path d="M391.7,716.8 L396.3,725.0 L387.1,725.0 Z" fill="rgba(150,220,150,0.22)" stroke="#52a852" stroke-width="0.95"/>
<path d="M466.3,716.0 L470.9,724.2 L461.7,724.2 Z" fill="rgba(150,220,150,0.22)" stroke="#52a852" stroke-width="0.95"/>
<path d="M472.7,647.4 L477.3,655.6 L468.1,655.6 Z" fill="rgba(150,220,150,0.22)" stroke="#52a852" stroke-width="0.95"/>
<circle cx="147.8" cy="631.0" r="3.2" fill="rgba(150,220,150,0.22)" stroke="#52a852" stroke-width="0.95"/>
<circle cx="147.7" cy="637.7" r="3.2" fill="rgba(150,220,150,0.22)" stroke="#52a852" stroke-width="0.95"/>
<circle cx="163.8" cy="646.3" r="3.2" fill="rgba(150,220,150,0.22)" stroke="#52a852" stroke-width="0.95"/>
<circle cx="164.3" cy="646.2" r="3.2" fill="rgba(150,220,150,0.22)" stroke="#52a852" stroke-width="0.95"/>
<circle cx="160.8" cy="658.9" r="3.2" fill="rgba(150,220,150,0.22)" stroke="#52a852" stroke-width="0.95"/>
<circle cx="156.9" cy="675.7" r="3.2" fill="rgba(150,220,150,0.22)" stroke="#52a852" stroke-width="0.95"/>
<circle cx="162.0" cy="697.4" r="3.2" fill="rgba(150,220,150,0.22)" stroke="#52a852" stroke-width="0.95"/>
<circle cx="148.0" cy="721.3" r="3.2" fill="rgba(150,220,150,0.22)" stroke="#52a852" stroke-width="0.95"/>
<circle cx="187.4" cy="634.3" r="3.2" fill="rgba(150,220,150,0.22)" stroke="#52a852" stroke-width="0.95"/>
<circle cx="197.3" cy="672.7" r="3.2" fill="rgba(150,220,150,0.22)" stroke="#52a852" stroke-width="0.95"/>
<circle cx="199.6" cy="674.2" r="3.2" fill="rgba(150,220,150,0.22)" stroke="#52a852" stroke-width="0.95"/>
<circle cx="234.6" cy="671.5" r="3.2" fill="rgba(150,220,150,0.22)" stroke="#52a852" stroke-width="0.95"/>
<circle cx="240.4" cy="693.0" r="3.2" fill="rgba(150,220,150,0.22)" stroke="#52a852" stroke-width="0.95"/>
<circle cx="237.7" cy="706.0" r="3.2" fill="rgba(150,220,150,0.22)" stroke="#52a852" stroke-width="0.95"/>
<circle cx="319.0" cy="656.3" r="3.2" fill="rgba(150,220,150,0.22)" stroke="#52a852" stroke-width="0.95"/>
<circle cx="323.1" cy="656.3" r="3.2" fill="rgba(150,220,150,0.22)" stroke="#52a852" stroke-width="0.95"/>
<circle cx="306.9" cy="721.3" r="3.2" fill="rgba(150,220,150,0.22)" stroke="#52a852" stroke-width="0.95"/>
<circle cx="313.7" cy="721.3" r="3.2" fill="rgba(150,220,150,0.22)" stroke="#52a852" stroke-width="0.95"/>
<circle cx="319.8" cy="721.3" r="3.2" fill="rgba(150,220,150,0.22)" stroke="#52a852" stroke-width="0.95"/>
<circle cx="402.5" cy="656.9" r="3.2" fill="rgba(150,220,150,0.22)" stroke="#52a852" stroke-width="0.95"/>
<circle cx="389.0" cy="694.0" r="3.2" fill="rgba(150,220,150,0.22)" stroke="#52a852" stroke-width="0.95"/>
<circle cx="397.1" cy="721.3" r="3.2" fill="rgba(150,220,150,0.22)" stroke="#52a852" stroke-width="0.95"/>
<circle cx="478.5" cy="651.9" r="3.2" fill="rgba(150,220,150,0.22)" stroke="#52a852" stroke-width="0.95"/>
<circle cx="476.0" cy="652.0" r="3.2" fill="rgba(150,220,150,0.22)" stroke="#52a852" stroke-width="0.95"/>
<path d="M184.0,716.8 L188.6,725.0 L179.4,725.0 Z" fill="rgba(150,220,150,0.22)" stroke="#52a852" stroke-width="0.95"/>
<path d="M187.0,716.8 L191.6,725.0 L182.4,725.0 Z" fill="rgba(150,220,150,0.22)" stroke="#52a852" stroke-width="0.95"/>
<path d="M191.0,716.8 L195.6,725.0 L186.4,725.0 Z" fill="rgba(150,220,150,0.22)" stroke="#52a852" stroke-width="0.95"/>
<path d="M195.0,716.8 L199.6,725.0 L190.4,725.0 Z" fill="rgba(150,220,150,0.22)" stroke="#52a852" stroke-width="0.95"/>
<path d="M199.0,716.8 L203.6,725.0 L194.4,725.0 Z" fill="rgba(150,220,150,0.22)" stroke="#52a852" stroke-width="0.95"/>
<path d="M203.0,716.8 L207.6,725.0 L198.4,725.0 Z" fill="rgba(150,220,150,0.22)" stroke="#52a852" stroke-width="0.95"/>
<path d="M206.0,716.8 L210.6,725.0 L201.4,725.0 Z" fill="rgba(150,220,150,0.22)" stroke="#52a852" stroke-width="0.95"/>
<circle cx="186.0" cy="721.3" r="3.2" fill="rgba(150,220,150,0.22)" stroke="#52a852" stroke-width="0.95"/>
<circle cx="193.0" cy="721.3" r="3.2" fill="rgba(150,220,150,0.22)" stroke="#52a852" stroke-width="0.95"/>
<circle cx="201.0" cy="721.3" r="3.2" fill="rgba(150,220,150,0.22)" stroke="#52a852" stroke-width="0.95"/>
<path d="M223.0,716.8 L227.6,725.0 L218.4,725.0 Z" fill="rgba(150,220,150,0.22)" stroke="#52a852" stroke-width="0.95"/>
<path d="M226.0,716.8 L230.6,725.0 L221.4,725.0 Z" fill="rgba(150,220,150,0.22)" stroke="#52a852" stroke-width="0.95"/>
<path d="M229.0,716.8 L233.6,725.0 L224.4,725.0 Z" fill="rgba(150,220,150,0.22)" stroke="#52a852" stroke-width="0.95"/>
<path d="M232.0,716.8 L236.6,725.0 L227.4,725.0 Z" fill="rgba(150,220,150,0.22)" stroke="#52a852" stroke-width="0.95"/>
<path d="M236.0,716.8 L240.6,725.0 L231.4,725.0 Z" fill="rgba(150,220,150,0.22)" stroke="#52a852" stroke-width="0.95"/>
<path d="M240.0,716.8 L244.6,725.0 L235.4,725.0 Z" fill="rgba(150,220,150,0.22)" stroke="#52a852" stroke-width="0.95"/>
<path d="M244.0,716.8 L248.6,725.0 L239.4,725.0 Z" fill="rgba(150,220,150,0.22)" stroke="#52a852" stroke-width="0.95"/>
<path d="M247.0,716.8 L251.6,725.0 L242.4,725.0 Z" fill="rgba(150,220,150,0.22)" stroke="#52a852" stroke-width="0.95"/>
<circle cx="225.0" cy="721.3" r="3.2" fill="rgba(150,220,150,0.22)" stroke="#52a852" stroke-width="0.95"/>
<circle cx="231.0" cy="721.3" r="3.2" fill="rgba(150,220,150,0.22)" stroke="#52a852" stroke-width="0.95"/>
<circle cx="238.0" cy="721.3" r="3.2" fill="rgba(150,220,150,0.22)" stroke="#52a852" stroke-width="0.95"/>
<circle cx="242.0" cy="721.3" r="3.2" fill="rgba(150,220,150,0.22)" stroke="#52a852" stroke-width="0.95"/>
<path d="M152.0,639.5 L156.6,647.7 L147.4,647.7 Z" fill="rgba(150,220,150,0.22)" stroke="#52a852" stroke-width="0.95"/>
<path d="M149.0,653.5 L153.6,661.7 L144.4,661.7 Z" fill="rgba(150,220,150,0.22)" stroke="#52a852" stroke-width="0.95"/>
<path d="M155.0,659.5 L159.6,667.7 L150.4,667.7 Z" fill="rgba(150,220,150,0.22)" stroke="#52a852" stroke-width="0.95"/>
<path d="M146.0,645.5 L150.6,653.7 L141.4,653.7 Z" fill="rgba(150,220,150,0.22)" stroke="#52a852" stroke-width="0.95"/>
<circle cx="153.0" cy="660.0" r="3.2" fill="rgba(150,220,150,0.22)" stroke="#52a852" stroke-width="0.95"/>
<circle cx="158.0" cy="667.0" r="3.2" fill="rgba(150,220,150,0.22)" stroke="#52a852" stroke-width="0.95"/>
<text transform="translate(10.8,803.5) scale(1.07,1)" x="0" y="0" font-size="16.5" font-weight="bold" fill="#111">D</text>
<line x1="96.7" y1="801.9" x2="96.7" y2="968.7" stroke="#111" stroke-width="1.5"/>
<line x1="96.0" y1="968.0" x2="504.6" y2="968.0" stroke="#111" stroke-width="1.5"/>
<line x1="91.9" y1="815.6" x2="96.7" y2="815.6" stroke="#111" stroke-width="1.1"/>
<text x="86.7" y="818.8" font-size="9" text-anchor="end" fill="#262626" >100,000</text>
<line x1="91.9" y1="842.3" x2="96.7" y2="842.3" stroke="#111" stroke-width="1.1"/>
<text x="86.7" y="845.5" font-size="9" text-anchor="end" fill="#262626" >10,000</text>
<line x1="91.9" y1="869.2" x2="96.7" y2="869.2" stroke="#111" stroke-width="1.1"/>
<text x="86.7" y="872.4" font-size="9" text-anchor="end" fill="#262626" >1,000</text>
<line x1="91.9" y1="896.9" x2="96.7" y2="896.9" stroke="#111" stroke-width="1.1"/>
<text x="86.7" y="900.1" font-size="9" text-anchor="end" fill="#262626" >100</text>
<line x1="91.9" y1="923.8" x2="96.7" y2="923.8" stroke="#111" stroke-width="1.1"/>
<text x="86.7" y="927.0" font-size="9" text-anchor="end" fill="#262626" >10</text>
<line x1="91.9" y1="950.8" x2="96.7" y2="950.8" stroke="#111" stroke-width="1.1"/>
<text x="86.7" y="954.0" font-size="9" text-anchor="end" fill="#262626" >0</text>
<text transform="translate(42.0,884.4) rotate(-90) scale(0.84,1)" x="0" y="4.3" font-size="12.5" text-anchor="middle" fill="#2a2a2a">pg/ml</text>
<line x1="154.6" y1="968.0" x2="154.6" y2="972.4" stroke="#111" stroke-width="1.1"/>
<text transform="translate(154.6,984.2) scale(0.98,1)" font-size="9.8" text-anchor="middle" fill="#262626" >Screen</text>
<line x1="194.4" y1="968.0" x2="194.4" y2="972.4" stroke="#111" stroke-width="1.1"/>
<text transform="translate(194.4,984.2) scale(0.98,1)" font-size="9.8" text-anchor="middle" fill="#262626" >W1D1</text>
<text transform="translate(194.4,995.7) scale(0.98,1)" font-size="9.8" text-anchor="middle" fill="#262626" >Pre</text>
<line x1="234.2" y1="968.0" x2="234.2" y2="972.4" stroke="#111" stroke-width="1.1"/>
<text transform="translate(234.2,984.2) scale(0.98,1)" font-size="9.8" text-anchor="middle" fill="#262626" >W1D1</text>
<text transform="translate(234.2,995.7) scale(0.98,1)" font-size="9.8" text-anchor="middle" fill="#262626" >2H</text>
<line x1="313.5" y1="968.0" x2="313.5" y2="972.4" stroke="#111" stroke-width="1.1"/>
<text transform="translate(313.5,984.2) scale(0.98,1)" font-size="9.8" text-anchor="middle" fill="#262626" >W6D1</text>
<text transform="translate(313.5,995.7) scale(0.98,1)" font-size="9.8" text-anchor="middle" fill="#262626" >2H</text>
<line x1="393.2" y1="968.0" x2="393.2" y2="972.4" stroke="#111" stroke-width="1.1"/>
<text transform="translate(393.2,984.2) scale(0.98,1)" font-size="9.8" text-anchor="middle" fill="#262626" >W14D1</text>
<text transform="translate(393.2,995.7) scale(0.98,1)" font-size="9.8" text-anchor="middle" fill="#262626" >2H</text>
<line x1="472.9" y1="968.0" x2="472.9" y2="972.4" stroke="#111" stroke-width="1.1"/>
<text transform="translate(472.9,984.2) scale(0.98,1)" font-size="9.8" text-anchor="middle" fill="#262626" >30 days</text>
<text transform="translate(472.9,995.7) scale(0.98,1)" font-size="9.8" text-anchor="middle" fill="#262626" >post last-dose</text>
<text transform="translate(147.7,797.1) scale(0.98,1)" font-size="9.8" text-anchor="middle" fill="#262626" >n = 18</text>
<text transform="translate(147.7,808.5) scale(0.98,1)" font-size="9.8" text-anchor="middle" fill="#262626" >Median:</text>
<text transform="translate(147.7,819.9) scale(0.98,1)" font-size="9.8" text-anchor="middle" fill="#262626" >1329</text>
<text transform="translate(194.2,797.1) scale(0.98,1)" font-size="9.8" text-anchor="middle" fill="#262626" >n = 11</text>
<text transform="translate(194.2,808.5) scale(0.98,1)" font-size="9.8" text-anchor="middle" fill="#262626" >Median:</text>
<text transform="translate(194.2,819.9) scale(0.98,1)" font-size="9.8" text-anchor="middle" fill="#262626" >511</text>
<text transform="translate(240.5,797.1) scale(0.98,1)" font-size="9.8" text-anchor="middle" fill="#262626" >n = 1</text>
<text transform="translate(240.5,808.5) scale(0.98,1)" font-size="9.8" text-anchor="middle" fill="#262626" >Median:</text>
<text transform="translate(240.5,819.9) scale(0.98,1)" font-size="9.8" text-anchor="middle" fill="#262626" >799</text>
<text transform="translate(313.9,797.1) scale(0.98,1)" font-size="9.8" text-anchor="middle" fill="#262626" >n = 5</text>
<text transform="translate(313.9,808.5) scale(0.98,1)" font-size="9.8" text-anchor="middle" fill="#262626" >Median:</text>
<text transform="translate(313.9,819.9) scale(0.98,1)" font-size="9.8" text-anchor="middle" fill="#262626" >901</text>
<text transform="translate(393.1,797.1) scale(0.98,1)" font-size="9.8" text-anchor="middle" fill="#262626" >n = 6</text>
<text transform="translate(393.1,808.5) scale(0.98,1)" font-size="9.8" text-anchor="middle" fill="#262626" >Median:</text>
<text transform="translate(393.1,819.9) scale(0.98,1)" font-size="9.8" text-anchor="middle" fill="#262626" >365.5</text>
<text transform="translate(472.0,797.1) scale(0.98,1)" font-size="9.8" text-anchor="middle" fill="#262626" >n = 2</text>
<text transform="translate(472.0,808.5) scale(0.98,1)" font-size="9.8" text-anchor="middle" fill="#262626" >Median:</text>
<text transform="translate(472.0,819.9) scale(0.98,1)" font-size="9.8" text-anchor="middle" fill="#262626" >818.5</text>
<text transform="translate(154.6,963.8) scale(0.98,1)" font-size="9.8" text-anchor="middle" fill="#262626" >n = 4</text>
<text transform="translate(194.4,963.8) scale(0.98,1)" font-size="9.8" text-anchor="middle" fill="#262626" >n = 8</text>
<text transform="translate(234.2,963.8) scale(0.98,1)" font-size="9.8" text-anchor="middle" fill="#262626" >n = 12</text>
<text transform="translate(313.5,963.8) scale(0.98,1)" font-size="9.8" text-anchor="middle" fill="#262626" >n = 7</text>
<text transform="translate(393.2,963.8) scale(0.98,1)" font-size="9.8" text-anchor="middle" fill="#262626" >n = 2</text>
<text transform="translate(472.9,963.8) scale(0.98,1)" font-size="9.8" text-anchor="middle" fill="#262626" >n = 1</text>
<line x1="97.5" y1="931.3" x2="506" y2="931.3" stroke="#000" stroke-width="1.3" stroke-dasharray="2.2,1.8"/>
<text transform="translate(101.2,926.7) scale(0.98,1)" font-size="9.8" text-anchor="start" fill="#262626" >Elevated</text>
<text transform="translate(101.2,941.2) scale(0.98,1)" font-size="9.8" text-anchor="start" fill="#262626" >Unelevated</text>
<line x1="154.2" y1="835.0" x2="154.2" y2="856.3" stroke="#1a1a1a" stroke-width="1.35"/>
<line x1="154.2" y1="884.2" x2="154.2" y2="898.0" stroke="#1a1a1a" stroke-width="1.35"/>
<rect x="139.6" y="856.3" width="29.3" height="27.9" fill="none" stroke="#1a1a1a" stroke-width="1.35"/>
<line x1="139.6" y1="878.2" x2="168.9" y2="878.2" stroke="#1a1a1a" stroke-width="1.89"/>
<line x1="194.4" y1="853.5" x2="194.4" y2="871.3" stroke="#1a1a1a" stroke-width="1.35" stroke-dasharray="7,1"/>
<rect x="179.8" y="871.3" width="29.1" height="79.9" fill="none" stroke="#1a1a1a" stroke-width="1.35" stroke-dasharray="7,1"/>
<line x1="179.8" y1="910.8" x2="208.9" y2="910.8" stroke="#1a1a1a" stroke-width="1.89"/>
<rect x="220.0" y="950.6" width="29.0" height="0.0" fill="none" stroke="#1a1a1a" stroke-width="1.35"/>
<line x1="220.0" y1="950.6" x2="249.0" y2="950.6" stroke="#1a1a1a" stroke-width="1.89"/>
<line x1="314.0" y1="859.0" x2="314.0" y2="879.8" stroke="#1a1a1a" stroke-width="1.35"/>
<rect x="299.6" y="879.8" width="28.8" height="70.8" fill="none" stroke="#1a1a1a" stroke-width="1.35"/>
<line x1="299.6" y1="950.6" x2="328.4" y2="950.6" stroke="#1a1a1a" stroke-width="1.89"/>
<line x1="392.9" y1="865.7" x2="392.9" y2="874.3" stroke="#1a1a1a" stroke-width="1.35"/>
<line x1="392.9" y1="909.3" x2="392.9" y2="950.8" stroke="#1a1a1a" stroke-width="1.35"/>
<rect x="378.5" y="874.3" width="28.7" height="35.0" fill="none" stroke="#1a1a1a" stroke-width="1.35"/>
<line x1="378.5" y1="894.4" x2="407.2" y2="894.4" stroke="#1a1a1a" stroke-width="1.89"/>
<line x1="472.8" y1="911.7" x2="472.8" y2="949.8" stroke="#1a1a1a" stroke-width="1.35"/>
<rect x="458.1" y="872.6" width="29.4" height="39.1" fill="none" stroke="#1a1a1a" stroke-width="1.35"/>
<line x1="458.1" y1="872.6" x2="487.5" y2="872.6" stroke="#1a1a1a" stroke-width="1.89"/>
<polyline points="153.4,831.1 187.4,853.5 310.9,859.8 402.0,867.8 479.5,871.2" fill="none" stroke="#c2c2c2" stroke-width="0.75"/>
<polyline points="153.9,843.0 304.5,869.8 384.3,865.0" fill="none" stroke="#c2c2c2" stroke-width="0.75"/>
<polyline points="148.1,849.6 184.6,856.5 226.0,950.6 322.5,868.5 399.2,875.4 471.9,871.2" fill="none" stroke="#c2c2c2" stroke-width="0.75"/>
<polyline points="151.6,847.3 200.1,856.5 304.0,950.6 391.6,949.8" fill="none" stroke="#c2c2c2" stroke-width="0.75"/>
<polyline points="150.4,853.5 194.3,866.2 310.0,950.6" fill="none" stroke="#c2c2c2" stroke-width="0.75"/>
<polyline points="157.4,856.5 197.3,877.3 235.0,872.0" fill="none" stroke="#c2c2c2" stroke-width="0.75"/>
<polyline points="163.8,859.3 198.5,900.8 238.0,950.6 315.8,881.4 387.1,891.0" fill="none" stroke="#c2c2c2" stroke-width="0.75"/>
<polyline points="150.4,861.1 200.1,903.6 242.0,950.6 321.2,904.8 390.6,894.4 466.0,949.8" fill="none" stroke="#c2c2c2" stroke-width="0.75"/>
<polyline points="147.7,876.6 202.4,911.9 246.0,950.6 316.0,950.6 396.8,950.6" fill="none" stroke="#c2c2c2" stroke-width="0.75"/>
<polyline points="158.5,875.0 188.5,918.2 230.0,950.6 321.0,950.6 395.1,895.5" fill="none" stroke="#c2c2c2" stroke-width="0.75"/>
<polyline points="152.3,880.5 184.0,950.6 228.0,950.6" fill="none" stroke="#c2c2c2" stroke-width="0.75"/>
<polyline points="150.4,885.1 190.0,950.6 232.0,950.6" fill="none" stroke="#c2c2c2" stroke-width="0.75"/>
<polyline points="162.0,899.0 196.0,950.6 240.0,950.6" fill="none" stroke="#c2c2c2" stroke-width="0.75"/>
<polyline points="144.7,950.6 204.0,950.6 244.0,950.6" fill="none" stroke="#c2c2c2" stroke-width="0.75"/>
<polyline points="162.0,950.6 206.0,950.6 222.0,950.6" fill="none" stroke="#c2c2c2" stroke-width="0.75"/>
<polyline points="155.0,838.0 186.0,950.6 224.0,950.6" fill="none" stroke="#c2c2c2" stroke-width="0.75"/>
<polyline points="160.0,852.0 234.0,950.6 306.0,950.6" fill="none" stroke="#c2c2c2" stroke-width="0.75"/>
<path d="M153.4,826.6 L158.0,834.8 L148.8,834.8 Z" fill="rgba(150,220,150,0.22)" stroke="#52a852" stroke-width="0.95"/>
<path d="M153.9,838.5 L158.5,846.7 L149.3,846.7 Z" fill="rgba(150,220,150,0.22)" stroke="#52a852" stroke-width="0.95"/>
<path d="M150.4,849.0 L155.0,857.2 L145.8,857.2 Z" fill="rgba(150,220,150,0.22)" stroke="#52a852" stroke-width="0.95"/>
<path d="M157.4,852.0 L162.0,860.2 L152.8,860.2 Z" fill="rgba(150,220,150,0.22)" stroke="#52a852" stroke-width="0.95"/>
<path d="M150.4,856.6 L155.0,864.8 L145.8,864.8 Z" fill="rgba(150,220,150,0.22)" stroke="#52a852" stroke-width="0.95"/>
<path d="M152.3,876.0 L156.9,884.2 L147.7,884.2 Z" fill="rgba(150,220,150,0.22)" stroke="#52a852" stroke-width="0.95"/>
<path d="M150.4,880.6 L155.0,888.8 L145.8,888.8 Z" fill="rgba(150,220,150,0.22)" stroke="#52a852" stroke-width="0.95"/>
<path d="M144.7,946.1 L149.3,954.3 L140.1,954.3 Z" fill="rgba(150,220,150,0.22)" stroke="#52a852" stroke-width="0.95"/>
<path d="M162.0,946.1 L166.6,954.3 L157.4,954.3 Z" fill="rgba(150,220,150,0.22)" stroke="#52a852" stroke-width="0.95"/>
<path d="M184.6,852.0 L189.2,860.2 L180.0,860.2 Z" fill="rgba(150,220,150,0.22)" stroke="#52a852" stroke-width="0.95"/>
<path d="M200.1,852.0 L204.7,860.2 L195.5,860.2 Z" fill="rgba(150,220,150,0.22)" stroke="#52a852" stroke-width="0.95"/>
<path d="M194.3,861.7 L198.9,869.9 L189.7,869.9 Z" fill="rgba(150,220,150,0.22)" stroke="#52a852" stroke-width="0.95"/>
<path d="M202.4,907.4 L207.0,915.6 L197.8,915.6 Z" fill="rgba(150,220,150,0.22)" stroke="#52a852" stroke-width="0.95"/>
<path d="M188.5,913.7 L193.1,921.9 L183.9,921.9 Z" fill="rgba(150,220,150,0.22)" stroke="#52a852" stroke-width="0.95"/>
<path d="M310.9,855.3 L315.5,863.5 L306.3,863.5 Z" fill="rgba(150,220,150,0.22)" stroke="#52a852" stroke-width="0.95"/>
<path d="M304.5,865.3 L309.1,873.5 L299.9,873.5 Z" fill="rgba(150,220,150,0.22)" stroke="#52a852" stroke-width="0.95"/>
<path d="M315.8,876.9 L320.4,885.1 L311.2,885.1 Z" fill="rgba(150,220,150,0.22)" stroke="#52a852" stroke-width="0.95"/>
<path d="M321.2,900.3 L325.8,908.5 L316.6,908.5 Z" fill="rgba(150,220,150,0.22)" stroke="#52a852" stroke-width="0.95"/>
<path d="M384.3,860.5 L388.9,868.7 L379.7,868.7 Z" fill="rgba(150,220,150,0.22)" stroke="#52a852" stroke-width="0.95"/>
<path d="M399.2,870.9 L403.8,879.1 L394.6,879.1 Z" fill="rgba(150,220,150,0.22)" stroke="#52a852" stroke-width="0.95"/>
<path d="M387.1,886.5 L391.7,894.7 L382.5,894.7 Z" fill="rgba(150,220,150,0.22)" stroke="#52a852" stroke-width="0.95"/>
<path d="M390.6,889.9 L395.2,898.1 L386.0,898.1 Z" fill="rgba(150,220,150,0.22)" stroke="#52a852" stroke-width="0.95"/>
<path d="M395.1,891.0 L399.7,899.2 L390.5,899.2 Z" fill="rgba(150,220,150,0.22)" stroke="#52a852" stroke-width="0.95"/>
<path d="M391.6,945.3 L396.2,953.5 L387.0,953.5 Z" fill="rgba(150,220,150,0.22)" stroke="#52a852" stroke-width="0.95"/>
<path d="M471.9,866.7 L476.5,874.9 L467.3,874.9 Z" fill="rgba(150,220,150,0.22)" stroke="#52a852" stroke-width="0.95"/>
<path d="M466.0,945.3 L470.6,953.5 L461.4,953.5 Z" fill="rgba(150,220,150,0.22)" stroke="#52a852" stroke-width="0.95"/>
<circle cx="148.1" cy="849.6" r="3.2" fill="rgba(150,220,150,0.22)" stroke="#52a852" stroke-width="0.95"/>
<circle cx="151.6" cy="847.3" r="3.2" fill="rgba(150,220,150,0.22)" stroke="#52a852" stroke-width="0.95"/>
<circle cx="163.8" cy="859.3" r="3.2" fill="rgba(150,220,150,0.22)" stroke="#52a852" stroke-width="0.95"/>
<circle cx="147.7" cy="876.6" r="3.2" fill="rgba(150,220,150,0.22)" stroke="#52a852" stroke-width="0.95"/>
<circle cx="158.5" cy="875.0" r="3.2" fill="rgba(150,220,150,0.22)" stroke="#52a852" stroke-width="0.95"/>
<circle cx="162.0" cy="899.0" r="3.2" fill="rgba(150,220,150,0.22)" stroke="#52a852" stroke-width="0.95"/>
<circle cx="187.4" cy="853.5" r="3.2" fill="rgba(150,220,150,0.22)" stroke="#52a852" stroke-width="0.95"/>
<circle cx="197.3" cy="877.3" r="3.2" fill="rgba(150,220,150,0.22)" stroke="#52a852" stroke-width="0.95"/>
<circle cx="198.5" cy="900.8" r="3.2" fill="rgba(150,220,150,0.22)" stroke="#52a852" stroke-width="0.95"/>
<circle cx="200.1" cy="903.6" r="3.2" fill="rgba(150,220,150,0.22)" stroke="#52a852" stroke-width="0.95"/>
<circle cx="235.0" cy="872.0" r="3.2" fill="rgba(150,220,150,0.22)" stroke="#52a852" stroke-width="0.95"/>
<circle cx="322.5" cy="868.5" r="3.2" fill="rgba(150,220,150,0.22)" stroke="#52a852" stroke-width="0.95"/>
<circle cx="402.0" cy="867.8" r="3.2" fill="rgba(150,220,150,0.22)" stroke="#52a852" stroke-width="0.95"/>
<circle cx="396.8" cy="950.6" r="3.2" fill="rgba(150,220,150,0.22)" stroke="#52a852" stroke-width="0.95"/>
<circle cx="479.5" cy="871.2" r="3.2" fill="rgba(150,220,150,0.22)" stroke="#52a852" stroke-width="0.95"/>
<path d="M184.0,946.1 L188.6,954.3 L179.4,954.3 Z" fill="rgba(150,220,150,0.22)" stroke="#52a852" stroke-width="0.95"/>
<path d="M188.0,946.1 L192.6,954.3 L183.4,954.3 Z" fill="rgba(150,220,150,0.22)" stroke="#52a852" stroke-width="0.95"/>
<path d="M192.0,946.1 L196.6,954.3 L187.4,954.3 Z" fill="rgba(150,220,150,0.22)" stroke="#52a852" stroke-width="0.95"/>
<path d="M196.0,946.1 L200.6,954.3 L191.4,954.3 Z" fill="rgba(150,220,150,0.22)" stroke="#52a852" stroke-width="0.95"/>
<path d="M200.0,946.1 L204.6,954.3 L195.4,954.3 Z" fill="rgba(150,220,150,0.22)" stroke="#52a852" stroke-width="0.95"/>
<path d="M204.0,946.1 L208.6,954.3 L199.4,954.3 Z" fill="rgba(150,220,150,0.22)" stroke="#52a852" stroke-width="0.95"/>
<circle cx="186.0" cy="950.6" r="3.2" fill="rgba(150,220,150,0.22)" stroke="#52a852" stroke-width="0.95"/>
<circle cx="194.0" cy="950.6" r="3.2" fill="rgba(150,220,150,0.22)" stroke="#52a852" stroke-width="0.95"/>
<circle cx="202.0" cy="950.6" r="3.2" fill="rgba(150,220,150,0.22)" stroke="#52a852" stroke-width="0.95"/>
<path d="M222.0,946.1 L226.6,954.3 L217.4,954.3 Z" fill="rgba(150,220,150,0.22)" stroke="#52a852" stroke-width="0.95"/>
<path d="M225.0,946.1 L229.6,954.3 L220.4,954.3 Z" fill="rgba(150,220,150,0.22)" stroke="#52a852" stroke-width="0.95"/>
<path d="M228.0,946.1 L232.6,954.3 L223.4,954.3 Z" fill="rgba(150,220,150,0.22)" stroke="#52a852" stroke-width="0.95"/>
<path d="M231.0,946.1 L235.6,954.3 L226.4,954.3 Z" fill="rgba(150,220,150,0.22)" stroke="#52a852" stroke-width="0.95"/>
<path d="M234.0,946.1 L238.6,954.3 L229.4,954.3 Z" fill="rgba(150,220,150,0.22)" stroke="#52a852" stroke-width="0.95"/>
<path d="M237.0,946.1 L241.6,954.3 L232.4,954.3 Z" fill="rgba(150,220,150,0.22)" stroke="#52a852" stroke-width="0.95"/>
<path d="M240.0,946.1 L244.6,954.3 L235.4,954.3 Z" fill="rgba(150,220,150,0.22)" stroke="#52a852" stroke-width="0.95"/>
<path d="M243.0,946.1 L247.6,954.3 L238.4,954.3 Z" fill="rgba(150,220,150,0.22)" stroke="#52a852" stroke-width="0.95"/>
<path d="M246.0,946.1 L250.6,954.3 L241.4,954.3 Z" fill="rgba(150,220,150,0.22)" stroke="#52a852" stroke-width="0.95"/>
<circle cx="224.0" cy="950.6" r="3.2" fill="rgba(150,220,150,0.22)" stroke="#52a852" stroke-width="0.95"/>
<circle cx="230.0" cy="950.6" r="3.2" fill="rgba(150,220,150,0.22)" stroke="#52a852" stroke-width="0.95"/>
<circle cx="236.0" cy="950.6" r="3.2" fill="rgba(150,220,150,0.22)" stroke="#52a852" stroke-width="0.95"/>
<circle cx="242.0" cy="950.6" r="3.2" fill="rgba(150,220,150,0.22)" stroke="#52a852" stroke-width="0.95"/>
<path d="M303.0,946.1 L307.6,954.3 L298.4,954.3 Z" fill="rgba(150,220,150,0.22)" stroke="#52a852" stroke-width="0.95"/>
<path d="M307.0,946.1 L311.6,954.3 L302.4,954.3 Z" fill="rgba(150,220,150,0.22)" stroke="#52a852" stroke-width="0.95"/>
<path d="M311.0,946.1 L315.6,954.3 L306.4,954.3 Z" fill="rgba(150,220,150,0.22)" stroke="#52a852" stroke-width="0.95"/>
<path d="M315.0,946.1 L319.6,954.3 L310.4,954.3 Z" fill="rgba(150,220,150,0.22)" stroke="#52a852" stroke-width="0.95"/>
<path d="M319.0,946.1 L323.6,954.3 L314.4,954.3 Z" fill="rgba(150,220,150,0.22)" stroke="#52a852" stroke-width="0.95"/>
<path d="M322.0,946.1 L326.6,954.3 L317.4,954.3 Z" fill="rgba(150,220,150,0.22)" stroke="#52a852" stroke-width="0.95"/>
<circle cx="305.0" cy="950.6" r="3.2" fill="rgba(150,220,150,0.22)" stroke="#52a852" stroke-width="0.95"/>
<circle cx="313.0" cy="950.6" r="3.2" fill="rgba(150,220,150,0.22)" stroke="#52a852" stroke-width="0.95"/>
<circle cx="320.0" cy="950.6" r="3.2" fill="rgba(150,220,150,0.22)" stroke="#52a852" stroke-width="0.95"/>
<path d="M150.0,833.5 L154.6,841.7 L145.4,841.7 Z" fill="rgba(150,220,150,0.22)" stroke="#52a852" stroke-width="0.95"/>
<path d="M156.0,841.5 L160.6,849.7 L151.4,849.7 Z" fill="rgba(150,220,150,0.22)" stroke="#52a852" stroke-width="0.95"/>
<path d="M147.0,852.5 L151.6,860.7 L142.4,860.7 Z" fill="rgba(150,220,150,0.22)" stroke="#52a852" stroke-width="0.95"/>
<path d="M160.0,863.5 L164.6,871.7 L155.4,871.7 Z" fill="rgba(150,220,150,0.22)" stroke="#52a852" stroke-width="0.95"/>
<path d="M153.0,868.5 L157.6,876.7 L148.4,876.7 Z" fill="rgba(150,220,150,0.22)" stroke="#52a852" stroke-width="0.95"/>
<path d="M146.0,875.5 L150.6,883.7 L141.4,883.7 Z" fill="rgba(150,220,150,0.22)" stroke="#52a852" stroke-width="0.95"/>
<circle cx="155.0" cy="851.0" r="3.2" fill="rgba(150,220,150,0.22)" stroke="#52a852" stroke-width="0.95"/>
<circle cx="149.0" cy="866.0" r="3.2" fill="rgba(150,220,150,0.22)" stroke="#52a852" stroke-width="0.95"/>
<circle cx="161.0" cy="880.0" r="3.2" fill="rgba(150,220,150,0.22)" stroke="#52a852" stroke-width="0.95"/>
<text transform="translate(220.2,1015.6) scale(0.98,1)" font-size="9.8" text-anchor="start" fill="#262626" >Stimulation type</text>
<circle cx="306.4" cy="1013" r="3.5" fill="none" stroke="#52a852" stroke-width="1"/>
<text transform="translate(316.0,1016.0) scale(0.98,1)" font-size="9.8" text-anchor="start" fill="#262626" >MHC</text>
<path d="M355.5,1009.2 L360.3,1016.8 L350.7,1016.8 Z" fill="none" stroke="#52a852" stroke-width="1"/>
<text transform="translate(365.8,1016.0) scale(0.98,1)" font-size="9.8" text-anchor="start" fill="#262626" >SEB</text>
<rect x="0.5" y="0.5" width="519" height="1026.5" fill="none" stroke="#1a1a1a" stroke-width="1"/>
<line x1="0" y1="1027" x2="520" y2="1027" stroke="#1a1a1a" stroke-width="2"/>
</svg></body></html>
